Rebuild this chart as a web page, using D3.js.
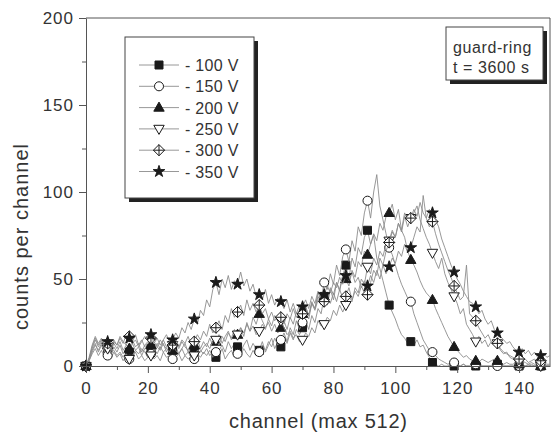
<!DOCTYPE html>
<html>
<head>
<meta charset="utf-8">
<script src="https://cdn.jsdelivr.net/npm/d3@7"></script>
<style>
body { margin: 0; background: #fff; }
text { font-family: "Liberation Sans", Arial, sans-serif; fill: #333; }
</style>
</head>
<body>
<div id="chart"></div>
<script>
"use strict";
// channel 0..150, counts per channel
const channels = d3.range(0, 151);

const v100 = [0,4,9,13,8,12,7,10,6,11, 8,12,7,10,8,13,9,11,6,10, 12,10,7,11,9,13,8,12,9,11,
  7,10,13,8,11,8,12,9,7,10, 6,8,5,9,12,8,14,10,13,11, 8,12,15,9,13,10,9,14,8,12,
  16,10,14,11,17,13,19,15,21,18, 22,26,21,29,25,33,30,40,35,44, 38,48,43,52,58,50,62,57,68,64,
  74,78,70,75,62,56,49,42,35,31, 27,22,18,16,13,14,12,15,11,12, 8,5,2,1,0,1,0,0,1,0,
  0,0,1,0,0,0,0,1,0,0, 0,0,0,1,0,0,0,0,0,0, 0,0,0,0,1,0,0,0,0,0,0];
const v150 = [0,3,7,10,6,9,5,6,4,8, 5,7,3,6,4,5,8,4,6,3, 5,7,4,6,3,8,5,6,4,5,
  7,3,6,4,5,4,7,5,8,6, 9,5,8,6,10,4,7,9,5,7, 6,10,7,5,9,6,8,12,9,14,
  11,16,12,15,19,14,22,18,26,21, 25,31,27,36,33,42,38,48,44,53, 47,58,52,63,67,60,72,66,80,75,
  88,95,85,100,110,92,84,76,68,64, 58,52,47,43,39,37,30,25,20,15, 12,9,8,6,4,3,2,1,2,2,
  1,0,1,0,0,0,1,0,0,0, 0,0,0,0,1,0,0,0,0,0, 0,0,0,0,0,0,0,0,0,0,0];
const v200 = [0,4,10,15,11,14,9,12,8,13, 10,14,9,12,10,15,11,13,8,12, 14,12,9,13,10,15,11,12,9,13,
  10,14,11,9,13,12,15,10,14,11, 16,12,14,18,13,17,20,15,19,18, 22,17,25,20,28,24,30,26,22,25,
  20,24,19,22,26,21,28,24,31,27, 30,34,29,37,33,40,36,40,38,45, 41,48,44,52,50,46,55,51,60,57,
  66,64,70,76,72,82,78,86,88,93, 84,90,78,74,66,61,58,54,49,45, 42,40,38,33,29,25,21,17,14,11,
  9,7,5,6,4,3,3,2,4,3, 2,3,4,3,2,1,2,1,1,2, 1,1,0,1,0,0,1,0,0,0,0];
const v250 = [0,3,8,12,9,13,8,10,7,9, 6,8,5,7,4,6,9,7,10,8, 5,6,9,7,11,8,10,8,12,9,
  7,10,6,8,5,6,9,8,11,13, 10,14,15,12,17,14,19,16,21,18, 22,19,24,20,23,18,20,24,21,27,
  23,29,26,26,22,18,20,16,18,14, 15,19,17,22,19,26,23,24,28,26, 32,29,35,31,35,40,37,45,42,50,
  47,57,53,62,58,66,63,70,72,78, 74,82,77,86,80,85,88,92,84,79, 74,70,65,60,56,62,53,48,44,40,
  36,30,33,24,21,18,14,17,13,15, 11,14,12,13,9,7,8,5,4,3, 2,3,2,1,2,1,1,0,1,0,0];
const v300 = [0,4,11,16,12,15,10,13,9,14, 12,16,13,18,17,14,18,12,15,11, 13,16,14,11,15,12,10,14,12,16,
  11,15,13,17,12,14,18,15,20,17, 24,19,22,26,21,29,25,33,28,31, 35,29,38,32,36,31,35,30,33,27,
  31,26,29,28,24,30,27,33,28,31, 30,34,29,36,32,38,35,37,39,36, 42,37,44,39,40,45,38,43,40,46,
  42,41,48,55,52,62,58,66,71,77, 74,82,78,88,84,85,90,86,94,88, 85,80,83,76,70,65,60,55,51,46,
  42,38,40,58,30,28,26,22,19,16, 18,14,12,13,10,8,7,6,5,4, 4,3,4,2,3,4,2,3,2,1,1];
const v350 = [0,5,12,17,13,16,11,14,10,15, 12,17,14,12,16,13,15,11,14,17, 15,18,13,16,12,15,18,14,15,19,
  16,22,19,25,21,27,24,32,29,38, 34,44,48,41,50,45,52,44,49,47, 54,46,50,43,47,40,41,38,44,36,
  41,35,39,37,33,38,31,36,30,35, 34,38,33,40,36,43,39,41,46,42, 48,45,51,47,52,49,54,48,51,45,
  49,46,52,48,55,50,58,53,57,62, 59,66,63,70,65,68,74,80,77,98, 85,90,88,84,80,73,68,63,58,54,
  50,47,43,40,37,36,34,30,32,27, 24,26,21,19,17,15,13,14,11,9, 8,10,7,9,6,8,5,6,7,5,6];

const seriesValues = [v100, v150, v200, v250, v300, v350];
const seriesLabels = ["- 100 V", "- 150 V", "- 200 V", "- 250 V", "- 300 V", "- 350 V"];
const seriesSymbols = ["square", "circle", "triangle", "triangleDown", "crossDiamond", "star"];
const markerEvery = 7;

const xTicks = [0, 20, 40, 60, 80, 100, 120, 140];
const yTicks = [0, 50, 100, 150, 200];
const noteLines = ["guard-ring", "t = 3600 s"];

const W = 551, H = 436;
const margin = {top: 18, right: 1, bottom: 70, left: 86};

const svg = d3.select("#chart").append("svg")
    .attr("width", W).attr("height", H);

const x = d3.scaleLinear().domain([0, 150]).range([margin.left, W - margin.right]);
const y = d3.scaleLinear().domain([0, 200]).range([H - margin.bottom, margin.top]);

// symbol paths
function symbolPath(kind) {
    switch (kind) {
        case "square": return "M-4,-4h8v8h-8z";
        case "circle": return d3.symbol(d3.symbolCircle, 64)();
        case "triangle": return "M0,-5.5L5.2,3.6L-5.2,3.6Z";
        case "triangleDown": return "M0,5.5L5.2,-3.6L-5.2,-3.6Z";
        case "crossDiamond": return "M0,-5.6L5.6,0L0,5.6L-5.6,0ZM0,-5.6V5.6M-5.6,0H5.6";
        case "star": return d3.symbol(d3.symbolStar, 42)();
    }
}
const filled = {square: true, circle: false, triangle: true, triangleDown: false, crossDiamond: false, star: true};

function drawMarker(g, kind, cx, cy) {
    g.append("path")
        .attr("d", symbolPath(kind))
        .attr("transform", "translate(" + cx + "," + cy + ")")
        .attr("fill", filled[kind] ? "#1a1a1a" : "#fff")
        .attr("stroke", "#1a1a1a")
        .attr("stroke-width", 1);
}

// frame (top and right)
svg.append("path")
    .attr("d", "M" + x(0) + "," + y(200) + "H" + x(150) + "V" + y(0))
    .attr("fill", "none").attr("stroke", "#555").attr("stroke-width", 1);

// series: line then markers
const line = d3.line()
    .x((d, i) => x(channels[i]))
    .y(d => y(d));

const plot = svg.append("g");
seriesValues.forEach((vals, s) => {
    plot.append("path")
        .datum(vals)
        .attr("d", line)
        .attr("fill", "none")
        .attr("stroke", "#8c8c8c")
        .attr("stroke-width", 0.9);
    const mg = plot.append("g");
    vals.forEach((v, i) => {
        if (channels[i] % markerEvery === 0) drawMarker(mg, seriesSymbols[s], x(channels[i]), y(v));
    });
});

// axes
const fontTick = 17;
const xAxis = svg.append("g")
    .attr("transform", "translate(0," + y(0) + ")")
    .call(d3.axisBottom(x).tickValues(xTicks).tickSize(7).tickSizeOuter(0).tickPadding(9));
svg.append("g")
    .attr("transform", "translate(0," + y(0) + ")")
    .call(d3.axisBottom(x).tickValues(d3.range(10, 150, 20)).tickSize(4).tickFormat(""))
    .select(".domain").remove();

const yAxis = svg.append("g")
    .attr("transform", "translate(" + x(0) + ",0)")
    .call(d3.axisLeft(y).tickValues(yTicks).tickSize(7).tickSizeOuter(0).tickPadding(5));
svg.append("g")
    .attr("transform", "translate(" + x(0) + ",0)")
    .call(d3.axisLeft(y).tickValues([25, 75, 125, 175]).tickSize(4).tickFormat(""))
    .select(".domain").remove();

svg.selectAll(".tick line, .domain").attr("stroke", "#555");
[xAxis, yAxis].forEach(a => a.selectAll("text")
    .attr("font-family", "Liberation Sans, Arial, sans-serif")
    .attr("font-size", fontTick)
    .attr("letter-spacing", 1)
    .attr("fill", "#333"));

// axis titles
svg.append("text")
    .attr("x", (x(0) + x(150)) / 2)
    .attr("y", 428)
    .attr("text-anchor", "middle")
    .attr("font-size", 20)
    .attr("textLength", 178)
    .text("channel (max 512)");

svg.append("text")
    .attr("transform", "translate(28,237) rotate(-90)")
    .attr("text-anchor", "middle")
    .attr("font-size", 20)
    .attr("textLength", 186)
    .text("counts per channel");

// legend box with shadow
const lg = svg.append("g");
const lgBox = {x: 125, y: 37, w: 129, h: 161};
lg.append("rect").attr("x", lgBox.x + 4).attr("y", lgBox.y + 4)
    .attr("width", lgBox.w).attr("height", lgBox.h).attr("fill", "#222");
lg.append("rect").attr("x", lgBox.x).attr("y", lgBox.y)
    .attr("width", lgBox.w).attr("height", lgBox.h)
    .attr("fill", "#fff").attr("stroke", "#444").attr("stroke-width", 1);
seriesLabels.forEach((lab, s) => {
    const ly = 65 + s * 21.3;
    lg.append("line").attr("x1", 139).attr("x2", 179).attr("y1", ly).attr("y2", ly)
        .attr("stroke", "#8c8c8c").attr("stroke-width", 0.9);
    drawMarker(lg, seriesSymbols[s], 159, ly);
    lg.append("text").attr("x", 185).attr("y", ly + 6)
        .attr("font-size", 16).attr("letter-spacing", 0.3)
        .text(lab);
});

// annotation box
const nb = {x: 446, y: 27, w: 97, h: 53};
svg.append("rect").attr("x", nb.x + 4).attr("y", nb.y + 4)
    .attr("width", nb.w).attr("height", nb.h).attr("fill", "#222");
svg.append("rect").attr("x", nb.x).attr("y", nb.y)
    .attr("width", nb.w).attr("height", nb.h)
    .attr("fill", "#fff").attr("stroke", "#444").attr("stroke-width", 1);
noteLines.forEach((t, i) => {
    svg.append("text").attr("x", 453).attr("y", 53 + i * 20)
        .attr("font-size", 16).attr("letter-spacing", 0.6)
        .text(t);
});
</script>
</body>
</html>
